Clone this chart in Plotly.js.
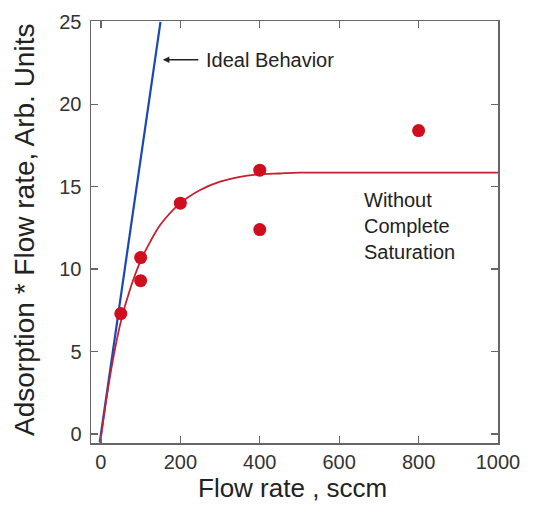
<!DOCTYPE html>
<html>
<head>
<meta charset="utf-8">
<script src="https://cdn.plot.ly/plotly-3.0.1.min.js"></script>
<style>html,body{margin:0;padding:0;background:#fff;}#chart{width:546px;height:506px;}</style>
</head>
<body>
<div id="chart"></div>
<script>
// Measured data points
const flowRate = [50, 100, 100, 200, 400, 400, 800];
const adsorption = [7.3, 10.7, 9.3, 14.0, 16.0, 12.4, 18.4];

// Fitted saturation curve
const fitX = [-2, 10, 25, 50, 75, 100, 125, 150, 200, 250, 300, 350, 400, 450, 500, 600, 800, 1000];
const fitY = [-0.6, 1.5, 3.8, 6.8, 8.9, 10.5, 11.7, 12.7, 14.0, 14.8, 15.3, 15.6, 15.75, 15.8, 15.85, 15.85, 15.85, 15.85];

// Ideal behavior line
const idealX = [-3, 150];
const idealY = [-0.5, 25];

const xTicks = [0, 200, 400, 600, 800, 1000];
const yTicks = [0, 5, 10, 15, 20, 25];

const font = 'Liberation Sans, Arial, sans-serif';

const traces = [
  {x: idealX, y: idealY, mode: 'lines', line: {color: '#1a47b8', width: 2.2}, hoverinfo: 'skip'},
  {x: fitX, y: fitY, mode: 'lines', line: {color: '#c81f30', width: 1.8, shape: 'spline', smoothing: 0.8}},
  {x: flowRate, y: adsorption, mode: 'markers', marker: {color: '#cf0f1e', size: 13}}
];

const axisCommon = {
  showgrid: false, zeroline: false, showline: true, linecolor: '#666', linewidth: 1.5,
  mirror: 'ticks', ticks: 'inside', ticklen: 7, tickwidth: 1.3, tickcolor: '#666',
  tickfont: {family: font, size: 20, color: '#333'}
};

const layout = {
  width: 546, height: 506,
  margin: {l: 91, r: 48, t: 21, b: 63},
  showlegend: false,
  paper_bgcolor: '#fff', plot_bgcolor: '#fff',
  xaxis: Object.assign({}, axisCommon, {
    range: [-25, 1000], tickvals: xTicks, ticktext: xTicks.map(String)
  }),
  yaxis: Object.assign({}, axisCommon, {
    range: [-0.55, 25.05], tickvals: yTicks, ticktext: yTicks.map(String), ticklabelstandoff: 4
  }),
  annotations: [
    {x: 156, y: 22.7, xref: 'x', yref: 'y', ax: 249, ay: 22.7, axref: 'x', ayref: 'y',
     text: '', showarrow: true, arrowhead: 2, arrowsize: 1, arrowwidth: 1.3, arrowcolor: '#222'},
    {x: 260, y: 22.7, xref: 'x', yref: 'y', text: 'Ideal Behavior', showarrow: false,
     xanchor: 'left', yanchor: 'middle', font: {family: font, size: 20, color: '#222'}},
    {x: 658, y: 12.6, xref: 'x', yref: 'y', text: 'Without<br>Complete<br>Saturation', showarrow: false,
     xanchor: 'left', yanchor: 'middle', align: 'left', font: {family: font, size: 20, color: '#222'}},
    {x: 0.496, y: -0.106, xref: 'paper', yref: 'paper', text: 'Flow rate , sccm', showarrow: false,
     xanchor: 'center', yanchor: 'middle', font: {family: font, size: 26, color: '#222'}},
    {x: -0.162, y: 0.505, xref: 'paper', yref: 'paper', text: 'Adsorption * Flow rate, Arb. Units', showarrow: false,
     textangle: -90, xanchor: 'center', yanchor: 'middle', font: {family: font, size: 28, color: '#222'}}
  ]
};

Plotly.newPlot('chart', traces, layout, {displayModeBar: false, staticPlot: true});
</script>
</body>
</html>
